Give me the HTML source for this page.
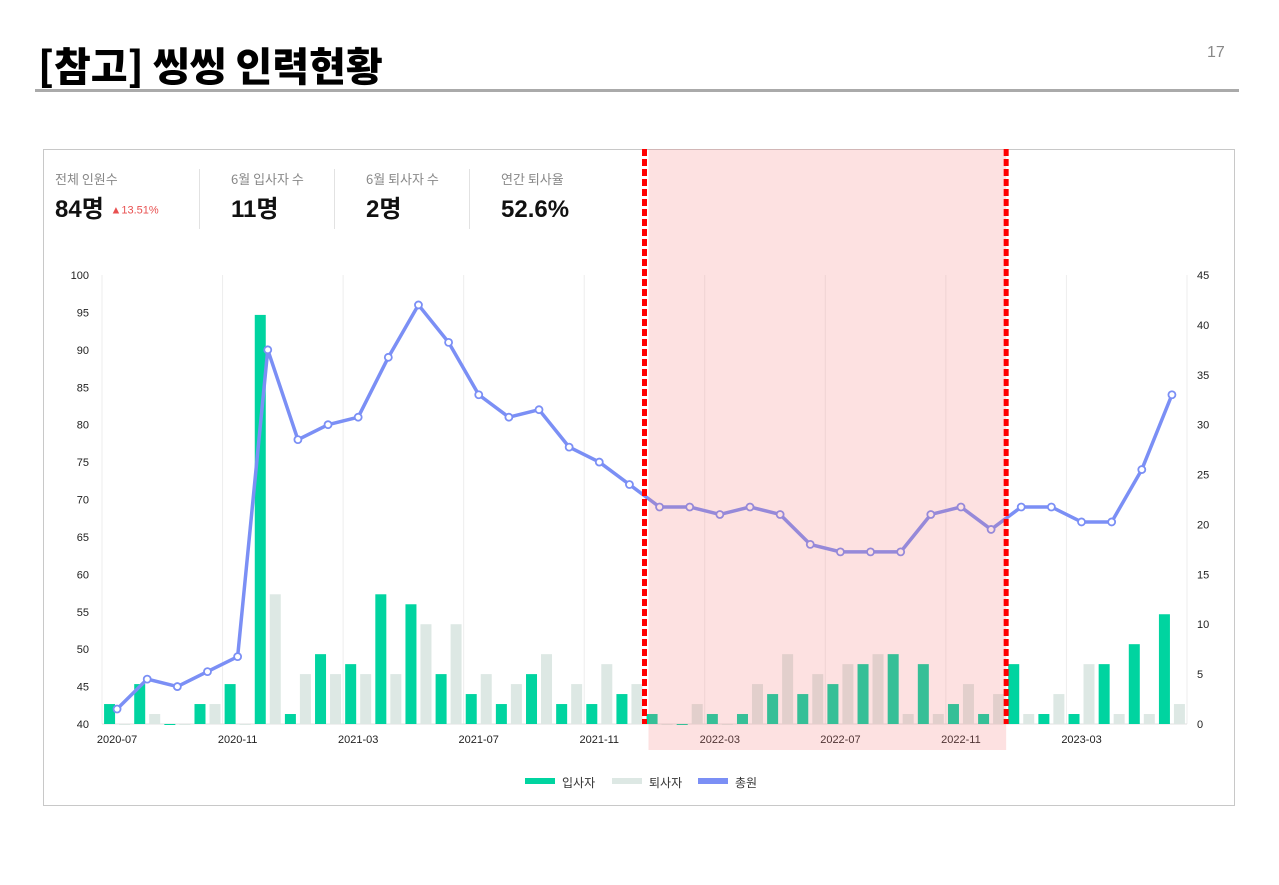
<!DOCTYPE html>
<html><head><meta charset="utf-8">
<style>
body{margin:0;width:1279px;height:885px;background:#fff;font-family:"Liberation Sans","Noto Sans CJK KR",sans-serif;position:relative;overflow:hidden}
.title{position:absolute;left:38px;top:36px;font-size:40px;font-weight:900;color:#000;letter-spacing:0px;font-family:"Noto Sans CJK KR","NanumGothic",sans-serif;line-height:56px}
.rule{position:absolute;left:35px;top:89px;width:1204px;height:3px;background:#aaa}
.pnum{position:absolute;left:1207px;top:44px;font-size:16px;color:#888}
.card{position:absolute;left:43px;top:149px;width:1190px;height:655px;border:1px solid #c8c8c8}
.kpi{position:absolute;top:170px}
.kpi .l{font-size:13px;color:#888;font-family:"Noto Sans CJK KR",sans-serif;line-height:18px;height:18px}
.kpi .v{font-size:24px;font-weight:bold;color:#111;margin-top:6px;line-height:32px;height:32px;font-family:"Liberation Sans","Noto Sans CJK KR",sans-serif}
.sep{position:absolute;top:169px;width:1px;height:60px;background:#e2e2e2}
svg{position:absolute;left:0;top:0}
</style></head><body>
<div class="title">[참고] 씽씽 인력현황</div>
<div class="rule"></div>
<div class="pnum">17</div>
<div class="card"></div>
<div class="kpi" style="left:55px"><div class="l">전체 인원수</div><div class="v">84명 <span style="font-size:11px;color:#e85050;font-weight:normal;vertical-align:middle">▲13.51%</span></div></div>
<div class="sep" style="left:199px"></div>
<div class="kpi" style="left:231px"><div class="l">6월 입사자 수</div><div class="v">11명</div></div>
<div class="sep" style="left:334px"></div>
<div class="kpi" style="left:366px"><div class="l">6월 퇴사자 수</div><div class="v">2명</div></div>
<div class="sep" style="left:469px"></div>
<div class="kpi" style="left:501px"><div class="l">연간 퇴사율</div><div class="v">52.6%</div></div>
<svg id="chart" width="1279" height="885"></svg>
<script>
const months=["2020-07","2020-08","2020-09","2020-10","2020-11","2020-12","2021-01","2021-02","2021-03","2021-04","2021-05","2021-06","2021-07","2021-08","2021-09","2021-10","2021-11","2021-12","2022-01","2022-02","2022-03","2022-04","2022-05","2022-06","2022-07","2022-08","2022-09","2022-10","2022-11","2022-12","2023-01","2023-02","2023-03","2023-04","2023-05","2023-06"];
const hires=[2,4,0,2,4,41,1,7,6,13,12,5,3,2,5,2,2,3,1,0,1,1,3,3,4,6,7,6,2,1,6,1,1,6,8,11];
const leavers=[0,1,0,2,0,13,5,5,5,5,10,10,5,4,7,4,6,4,0,2,0,4,7,5,6,7,1,1,4,3,1,3,6,1,1,2];
const total=[42,46,45,47,49,90,78,80,81,89,96,91,84,81,82,77,75,72,69,69,68,69,68,64,63,63,63,68,69,66,69,69,67,67,74,84];
const leftTicks=[40,45,50,55,60,65,70,75,80,85,90,95,100];
const rightTicks=[0,5,10,15,20,25,30,35,40,45];
const xLabels=["2020-07","2020-11","2021-03","2021-07","2021-11","2022-03","2022-07","2022-11","2023-03"];
const highlight=["2022-01","2022-12"];

const NS="http://www.w3.org/2000/svg",svg=document.getElementById('chart');
const X0=102,X1=1187,Y0=724,Y1=275,bw=(X1-X0)/months.length;
const xc=i=>X0+bw*(i+0.5);
const yL=v=>Y0-(v-40)/60*(Y0-Y1);
const yR=v=>Y0-v/45*(Y0-Y1);
function mk(t,a,p){const e=document.createElementNS(NS,t);for(const k in a)e.setAttribute(k,a[k]);(p||svg).appendChild(e);return e;}
for(let i=0;i<=months.length;i+=4){
  const g=mk('line',{x1:X0+bw*i,x2:X0+bw*i,y1:Y1,y2:Y0,stroke:'#eeeeee'});
  
  
}
mk('line',{x1:X0,x2:X1,y1:Y0,y2:Y0,stroke:'#e0e0e0'});
leftTicks.forEach(v=>{const t=mk('text',{x:89,y:yL(v)+4,'text-anchor':'end','font-size':11,fill:'#222'});t.textContent=v;
  
  });
rightTicks.forEach(v=>{const t=mk('text',{x:1197,y:yR(v)+4,'font-size':11,fill:'#222'});t.textContent=v;
  
  });
xLabels.forEach(m=>{const i=months.indexOf(m);const t=mk('text',{x:xc(i),y:743,'text-anchor':'middle','font-size':11,fill:'#222'});t.textContent=m;
  
  });
months.forEach((m,i)=>{
  const b1=mk('rect',{x:xc(i)-13,y:yR(hires[i]),width:11,height:Math.max(Y0-yR(hires[i]),hires[i]?0:1),fill:'#00d4a0'});
  
  
  const b2=mk('rect',{x:xc(i)+2,y:yR(leavers[i]),width:11,height:Math.max(Y0-yR(leavers[i]),leavers[i]?0:1),fill:'#dde8e4'});
  
  
});
const pts=total.map((v,i)=>xc(i)+','+yL(v)).join(' ');
const ln=mk('polyline',{points:pts,fill:'none',stroke:'#7b8ff5','stroke-width':3.5,'stroke-linejoin':'round'});


total.forEach((v,i)=>{const c=mk('circle',{cx:xc(i),cy:yL(v),r:3.5,fill:'#fff',stroke:'#7b8ff5','stroke-width':1.8});
  
  });
const hs=months.indexOf(highlight[0]),he=months.indexOf(highlight[1]);
const hx0=X0+bw*hs,hx1=X0+bw*(he+1);
const band=mk('rect',{x:hx0+4,y:149,width:hx1-hx0-4,height:601,fill:'rgba(245,120,120,0.22)'});


[hx0,hx1].forEach(x=>{const d=mk('line',{x1:x,x2:x,y1:149,y2:724,stroke:'#ff0000','stroke-width':5,'stroke-dasharray':'7,3'});
  
  });
const leg=[["입사자","#00d4a0",525],["퇴사자","#dde8e4",612],["총원","#7b8ff5",698]];
leg.forEach(l=>{const r=mk('rect',{x:l[2],y:778,width:30,height:6,fill:l[1]});
  
  
  const t=mk('text',{x:l[2]+37,y:787,'font-size':12,fill:'#333'});t.textContent=l[0];
  
  });
</script>
</body></html>
